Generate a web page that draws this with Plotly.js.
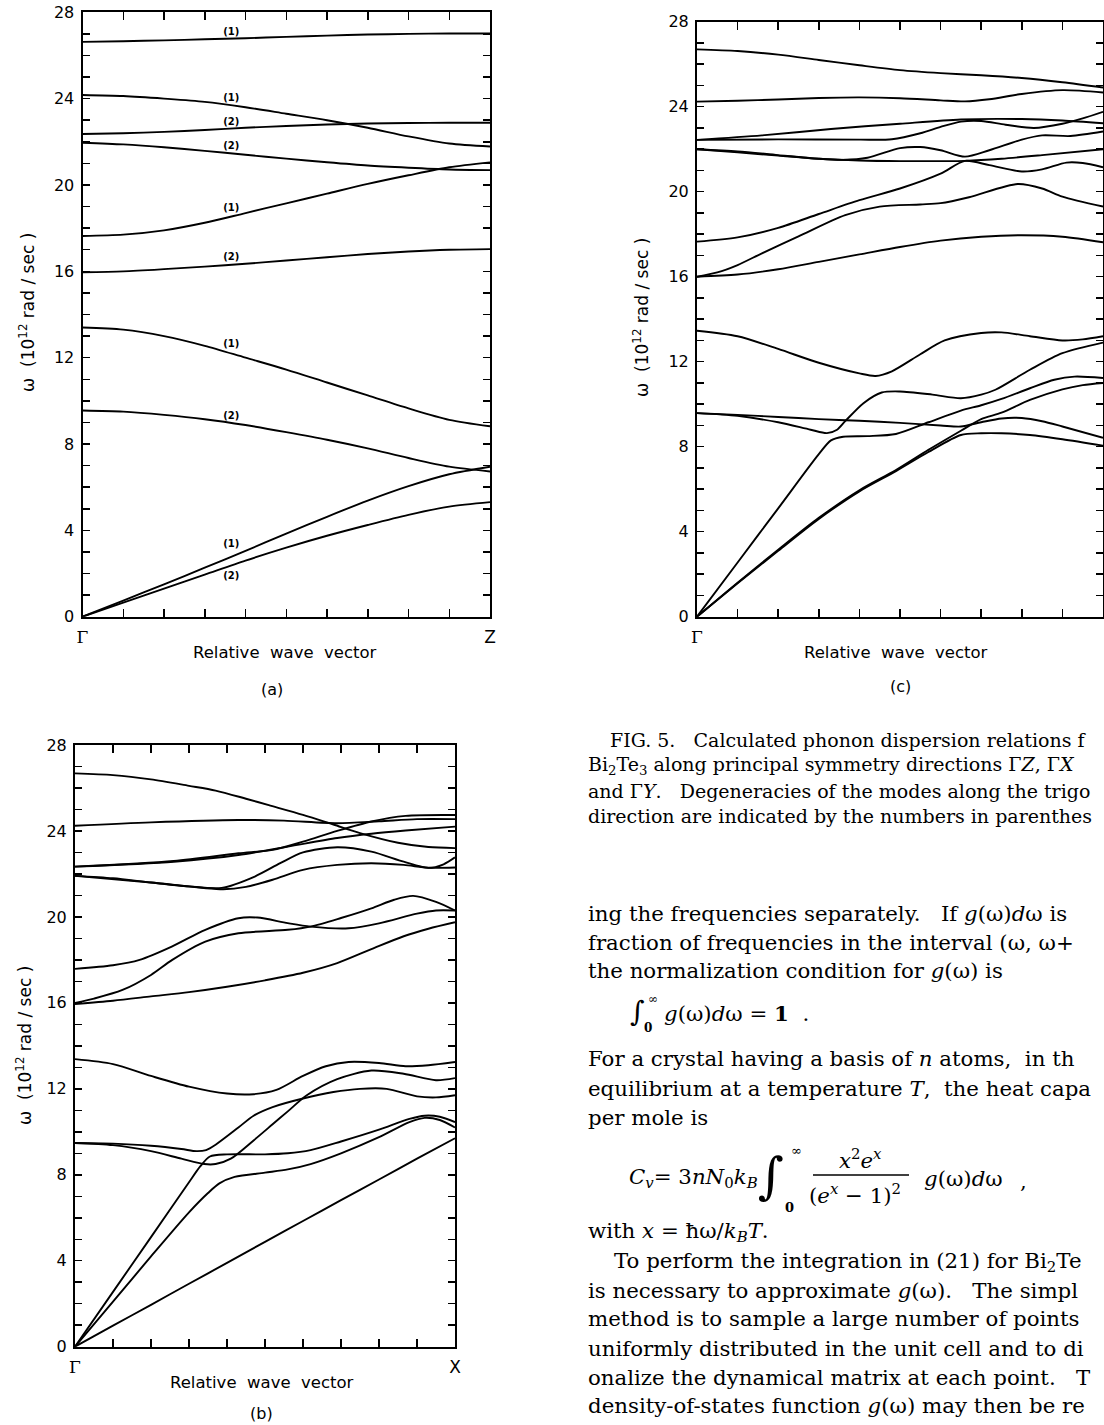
<!DOCTYPE html>
<html><head><meta charset="utf-8">
<script src="https://cdn.plot.ly/plotly-3.0.1.min.js"></script>
<style>html,body{margin:0;padding:0;background:#fff;overflow:hidden;} #chart{width:1104px;height:1425px;}</style>
</head><body><div id="chart"></div>
<script>
// ---------------- DATA ----------------
// Panel (a): Gamma -> Z, sampled every 0.1 of the relative wave vector
const qA = [0, 0.1, 0.2, 0.3, 0.4, 0.5, 0.6, 0.7, 0.8, 0.9, 1.0];
const A1 = [26.63, 26.66, 26.70, 26.75, 26.80, 26.86, 26.92, 26.97, 27.00, 27.02, 27.02];
const A2 = [24.17, 24.12, 24.00, 23.85, 23.60, 23.30, 23.00, 22.65, 22.25, 21.92, 21.78];
const A3 = [22.36, 22.40, 22.46, 22.55, 22.65, 22.73, 22.80, 22.85, 22.87, 22.88, 22.88];
const A4 = [21.96, 21.88, 21.75, 21.58, 21.40, 21.22, 21.05, 20.90, 20.80, 20.72, 20.69];
const A5 = [17.64, 17.70, 17.90, 18.25, 18.70, 19.15, 19.60, 20.05, 20.45, 20.82, 21.05];
const A6 = [15.96, 16.00, 16.10, 16.22, 16.35, 16.50, 16.65, 16.80, 16.92, 17.00, 17.03];
const A7 = [13.40, 13.30, 13.00, 12.55, 12.00, 11.45, 10.85, 10.25, 9.65, 9.12, 8.82];
const A8 = [9.55, 9.50, 9.35, 9.15, 8.88, 8.55, 8.20, 7.80, 7.35, 6.95, 6.73];
const A9 = [0, 0.75, 1.50, 2.27, 3.05, 3.85, 4.63, 5.38, 6.05, 6.60, 6.95];
const A10 = [0, 0.65, 1.30, 1.95, 2.60, 3.20, 3.75, 4.25, 4.72, 5.10, 5.31];
// degeneracy labels of panel (a)
const degLabelQ = [0.365, 0.365, 0.365, 0.365, 0.365, 0.365, 0.365, 0.365, 0.365, 0.365];
const degLabelW = [27.07, 24.01, 22.90, 21.77, 18.92, 16.65, 12.59, 9.27, 3.33, 1.84];
const degLabelText = ['(1)', '(1)', '(2)', '(2)', '(1)', '(2)', '(1)', '(2)', '(1)', '(2)'];

// Panel (b): Gamma -> X, [relative wave vector, omega] pairs
const B1 = [[0,26.68],[0.1,26.6],[0.2,26.4],[0.3,26.1],[0.37,25.88],[0.45,25.5],[0.51,25.2],[0.6,24.75],[0.68,24.3],[0.75,23.9],[0.85,23.45],[0.93,23.25],[1,23.2]];
const B2 = [[0,24.24],[0.2,24.4],[0.43,24.51],[0.55,24.48],[0.69,24.36],[0.8,24.45],[0.9,24.55],[1,24.55]];
const B3 = [[0,22.34],[0.26,22.6],[0.43,22.96],[0.52,23.12],[0.6,23.5],[0.69,24.0],[0.78,24.44],[0.87,24.7],[1,24.74]];
const B4 = [[0,22.34],[0.26,22.57],[0.43,22.88],[0.56,23.27],[0.69,23.67],[0.78,23.87],[0.87,24.02],[1,24.2]];
const B5 = [[0,21.91],[0.1,21.8],[0.2,21.6],[0.3,21.42],[0.386,21.35],[0.473,21.88],[0.54,22.5],[0.6,23.0],[0.69,23.24],[0.78,23.04],[0.865,22.57],[0.93,22.28],[0.97,22.45],[1,22.77]];
const B6 = [[0,21.91],[0.2,21.6],[0.39,21.29],[0.45,21.4],[0.52,21.73],[0.6,22.19],[0.69,22.42],[0.78,22.5],[0.865,22.42],[0.93,22.29],[1,22.3]];
const B7 = [[0,17.58],[0.1,17.75],[0.17,18.0],[0.256,18.63],[0.343,19.4],[0.43,19.94],[0.48,19.97],[0.56,19.71],[0.62,19.55],[0.72,19.47],[0.8,19.7],[0.9,20.15],[0.95,20.3],[1,20.3]];
const B8 = [[0,16.0],[0.05,16.2],[0.125,16.6],[0.2,17.3],[0.256,18.0],[0.343,18.85],[0.43,19.24],[0.56,19.4],[0.62,19.55],[0.7,19.95],[0.78,20.4],[0.84,20.8],[0.89,20.98],[0.95,20.7],[1,20.3]];
const B9 = [[0,15.95],[0.1,16.1],[0.2,16.3],[0.3,16.5],[0.4,16.75],[0.5,17.05],[0.6,17.4],[0.69,17.85],[0.78,18.5],[0.865,19.1],[0.93,19.45],[1,19.75]];
const B10 = [[0,13.38],[0.1,13.15],[0.2,12.6],[0.3,12.1],[0.4,11.78],[0.47,11.75],[0.53,11.95],[0.6,12.6],[0.66,13.05],[0.72,13.25],[0.8,13.2],[0.87,13.05],[0.93,13.1],[1,13.25]];
const B11 = [[0,9.48],[0.1,9.38],[0.2,9.1],[0.28,8.75],[0.34,8.5],[0.37,8.5],[0.41,8.75],[0.47,9.6],[0.52,10.35],[0.56,10.95],[0.61,11.7],[0.69,12.45],[0.78,12.85],[0.865,12.7],[0.95,12.4],[1,12.5]];
const B12 = [[0,9.48],[0.1,9.45],[0.2,9.35],[0.28,9.2],[0.32,9.1],[0.345,9.15],[0.37,9.4],[0.43,10.2],[0.47,10.75],[0.52,11.15],[0.6,11.55],[0.68,11.85],[0.75,12.0],[0.82,12.0],[0.9,11.65],[0.95,11.6],[1,11.7]];
const B13 = [[0,0],[0.1,2.55],[0.2,5.1],[0.3,7.65],[0.33,8.4],[0.355,8.85],[0.4,8.95],[0.5,8.95],[0.56,9.0],[0.62,9.15],[0.7,9.55],[0.8,10.1],[0.88,10.6],[0.92,10.75],[0.96,10.7],[1,10.45]];
const B14 = [[0,0],[0.1,2.1],[0.2,4.2],[0.3,6.25],[0.35,7.15],[0.38,7.6],[0.42,7.9],[0.5,8.1],[0.56,8.25],[0.62,8.5],[0.7,9.0],[0.8,9.75],[0.88,10.45],[0.92,10.65],[0.96,10.55],[1,10.2]];
const B15 = [[0,0],[0.1,0.98],[0.2,1.95],[0.3,2.93],[0.4,3.9],[0.5,4.88],[0.6,5.85],[0.7,6.82],[0.8,7.78],[0.9,8.75],[1,9.7]];

// Panel (c): Gamma -> Y, [relative wave vector, omega] pairs
const C1 = [[0,26.7],[0.1,26.62],[0.2,26.45],[0.3,26.2],[0.4,25.95],[0.5,25.72],[0.6,25.58],[0.7,25.48],[0.8,25.35],[0.9,25.15],[1,24.9]];
const C2 = [[0,24.24],[0.1,24.28],[0.2,24.34],[0.3,24.41],[0.4,24.44],[0.5,24.4],[0.6,24.3],[0.66,24.25],[0.72,24.35],[0.8,24.6],[0.9,24.78],[1,24.67]];
const C3 = [[0,22.44],[0.16,22.65],[0.33,22.95],[0.5,23.2],[0.65,23.4],[0.8,23.42],[0.9,23.35],[1,23.22]];
const C4 = [[0,22.44],[0.2,22.46],[0.4,22.45],[0.48,22.47],[0.55,22.75],[0.6,23.05],[0.65,23.3],[0.7,23.33],[0.76,23.15],[0.83,23.0],[0.9,23.2],[0.95,23.45],[1,23.76]];
const C5 = [[0,22.0],[0.1,21.9],[0.2,21.72],[0.3,21.55],[0.36,21.5],[0.42,21.6],[0.5,22.05],[0.55,22.1],[0.6,21.95],[0.66,21.65],[0.72,21.95],[0.8,22.45],[0.85,22.65],[0.92,22.62],[1,22.83]];
const C6 = [[0,22.0],[0.1,21.85],[0.2,21.7],[0.3,21.55],[0.4,21.47],[0.5,21.44],[0.6,21.44],[0.66,21.45],[0.75,21.55],[0.85,21.72],[1,22.0]];
const C7 = [[0,17.65],[0.1,17.85],[0.2,18.3],[0.3,18.95],[0.4,19.6],[0.5,20.15],[0.6,20.85],[0.66,21.45],[0.72,21.25],[0.8,20.95],[0.85,21.05],[0.91,21.37],[0.95,21.35],[1,21.15]];
const C8 = [[0,16.0],[0.05,16.2],[0.1,16.55],[0.16,17.1],[0.25,17.9],[0.365,18.9],[0.45,19.3],[0.55,19.4],[0.6,19.46],[0.67,19.74],[0.79,20.36],[0.85,20.15],[0.9,19.77],[1,19.3]];
const C9 = [[0,16.0],[0.1,16.1],[0.2,16.35],[0.3,16.7],[0.4,17.05],[0.5,17.4],[0.6,17.7],[0.7,17.88],[0.8,17.95],[0.9,17.88],[1,17.62]];
const C10 = [[0,13.46],[0.1,13.2],[0.2,12.6],[0.3,11.95],[0.4,11.45],[0.44,11.33],[0.48,11.55],[0.55,12.35],[0.61,13.0],[0.7,13.35],[0.75,13.38],[0.82,13.2],[0.9,13.0],[0.95,13.05],[1,13.2]];
const C11 = [[0,0],[0.1,2.55],[0.2,5.1],[0.3,7.65],[0.33,8.3],[0.36,8.47],[0.42,8.5],[0.49,8.6],[0.57,9.15],[0.65,9.7],[0.7,9.95],[0.75,10.25],[0.82,10.75],[0.88,11.15],[0.93,11.3],[1,11.23]];
const C12 = [[0,9.58],[0.1,9.45],[0.2,9.15],[0.28,8.8],[0.32,8.64],[0.345,8.8],[0.365,9.2],[0.41,10.05],[0.455,10.55],[0.5,10.6],[0.58,10.45],[0.65,10.28],[0.7,10.45],[0.735,10.68],[0.82,11.62],[0.9,12.4],[1,12.9]];
const C13 = [[0,9.58],[0.1,9.5],[0.2,9.4],[0.3,9.3],[0.4,9.22],[0.5,9.12],[0.6,9.0],[0.65,8.95],[0.7,9.15],[0.75,9.33],[0.8,9.35],[0.85,9.2],[0.9,8.95],[1,8.42]];
const C14 = [[0,0],[0.1,1.6],[0.2,3.15],[0.3,4.65],[0.4,5.95],[0.49,6.9],[0.57,7.85],[0.65,8.75],[0.7,9.3],[0.75,9.6],[0.82,10.2],[0.9,10.7],[0.95,10.9],[1,11.0]];
const C15 = [[0,0],[0.1,1.57],[0.2,3.1],[0.3,4.6],[0.4,5.9],[0.49,6.85],[0.57,7.75],[0.65,8.55],[0.7,8.63],[0.75,8.63],[0.82,8.55],[0.9,8.35],[1,8.05]];

// tick values / labels
const xTickVals = [0, 0.1, 0.2, 0.3, 0.4, 0.5, 0.6, 0.7, 0.8, 0.9, 1.0];
const yLabelVals = [0, 4, 8, 12, 16, 20, 24, 28];
const yMinorVals = [0,1,2,3,4,5,6,7,8,9,10,11,12,13,14,15,16,17,18,19,20,21,22,23,24,25,26,27,28];
const endPointLabels = {a:'Z', b:'X', c:'Y'};

// ---------------- BUILD ----------------
const W = 1104, H = 1425;
const lineStyle = {color:'#000', width:1.9, shape:'spline', smoothing:0.8};
const traces = [];
[A1,A2,A3,A4,A5,A6,A7,A8,A9,A10].forEach(b => traces.push({x:qA, y:b, xaxis:'x', yaxis:'y', mode:'lines', line:lineStyle, hoverinfo:'skip'}));
[C1,C2,C3,C4,C5,C6,C7,C8,C9,C10,C11,C12,C13,C14,C15].forEach(b => traces.push({x:b.map(p=>p[0]), y:b.map(p=>p[1]), xaxis:'x2', yaxis:'y2', mode:'lines', line:lineStyle, hoverinfo:'skip'}));
[B1,B2,B3,B4,B5,B6,B7,B8,B9,B10,B11,B12,B13,B14,B15].forEach(b => traces.push({x:b.map(p=>p[0]), y:b.map(p=>p[1]), xaxis:'x3', yaxis:'y3', mode:'lines', line:lineStyle, hoverinfo:'skip'}));
traces.push({x:degLabelQ, y:degLabelW, text:degLabelText.map(t=>'<b>'+t+'</b>'), mode:'text', xaxis:'x', yaxis:'y',
  textposition:'middle center', textfont:{family:'DejaVu Sans', size:10, color:'#000'}, hoverinfo:'skip'});

const dx = (a,b) => [a/W, b/W];
const dy = (top,bot) => [1 - bot/H, 1 - top/H];
function xAx(dom, end, anchor){
  return {domain:dom, anchor, range:[0,1], tickmode:'array', tickvals:[0, 1],
    ticktext:['<span style="font-family:DejaVu Serif">Γ</span>', end],
    ticks:'inside', ticklen:8, tickwidth:1.5, tickcolor:'#000',
    minor:{tickmode:'array', tickvals:xTickVals, ticks:'inside', ticklen:8, tickwidth:1.5, tickcolor:'#000', showgrid:false},
    mirror:'allticks', showline:true, linewidth:2, linecolor:'#000',
    showgrid:false, zeroline:false, tickfont:{family:'DejaVu Sans', size:17, color:'#000'}, ticklabelstandoff:4, fixedrange:true};
}
function yAx(dom, anchor){
  return {domain:dom, anchor, range:[0,28], tickmode:'array', tickvals:yLabelVals,
    ticktext: yLabelVals.map(String),
    ticks:'inside', ticklen:7, tickwidth:1.5, tickcolor:'#000',
    minor:{tickmode:'array', tickvals:yMinorVals, ticks:'inside', ticklen:7, tickwidth:1.5, tickcolor:'#000', showgrid:false},
    mirror:'allticks', showline:true, linewidth:2, linecolor:'#000',
    showgrid:false, zeroline:false, tickfont:{family:'DejaVu Sans', size:16, color:'#000'}, ticklabelstandoff:3, fixedrange:true};
}

const BODY = 21.3, CAP = 19.0;
const P = (x, y, text, o={}) => Object.assign({xref:'paper', yref:'paper', x:x/W, y:1-y/H, text, showarrow:false,
  xanchor:'left', yanchor:'middle', font:{family:'DejaVu Serif', size:BODY, color:'#000'}}, o);
const sans = s => ({family:'DejaVu Sans', size:s, color:'#000'});
const serif = s => ({family:'DejaVu Serif', size:s, color:'#000'});
const nb = '\u00a0';
const waveTitle = 'Relative'+nb+nb+'wave'+nb+nb+'vector';
const omegaTitle = 'ω'+nb+' (10<sup>12</sup>'+nb+'rad'+nb+'/'+nb+'sec'+nb+')';

const annotations = [
  // panel (a)
  P(285, 652, waveTitle, {xanchor:'center', font:sans(16.5)}),
  P(272, 690, '(a)', {xanchor:'center', font:sans(16)}),
  P(27, 313, omegaTitle, {xanchor:'center', textangle:-90, font:sans(17)}),
  // panel (c)
  P(896, 652, waveTitle, {xanchor:'center', font:sans(16.5)}),
  P(900, 686, '(c)', {xanchor:'center', font:sans(16)}),
  P(641, 318, omegaTitle, {xanchor:'center', textangle:-90, font:sans(17)}),
  // panel (b)
  P(262, 1382, waveTitle, {xanchor:'center', font:sans(16.5)}),
  P(261, 1413, '(b)', {xanchor:'center', font:sans(16)}),
  P(24, 1046, omegaTitle, {xanchor:'center', textangle:-90, font:sans(17)}),
  // caption (the reference crop cuts the lines at the right edge)
  P(608, 740, 'FIG. 5.'+nb+nb+' Calculated phonon dispersion relations f', {font:serif(CAP)}),
  P(586, 765, 'Bi<sub>2</sub>Te<sub>3</sub> along principal symmetry directions Γ<i>Z</i>, Γ<i>X</i>', {font:serif(CAP)}),
  P(586, 791, 'and Γ<i>Y</i>.'+nb+nb+' Degeneracies of the modes along the trigo', {font:serif(CAP)}),
  P(586, 816, 'direction are indicated by the numbers in parenthes', {font:serif(CAP)}),
  // body text
  P(586, 913, 'ing the frequencies separately.'+nb+nb+' If <i>g</i>(ω)<i>d</i>ω is'),
  P(586, 942, 'fraction of frequencies in the interval (ω, ω+'),
  P(586, 970, 'the normalization condition for <i>g</i>(ω) is'),
  P(628, 1011, '∫', {font:serif(28)}),
  P(646, 999, '∞', {font:serif(12)}),
  P(642, 1028, '<b>0</b>', {font:serif(12)}),
  P(662, 1013, '<i>g</i>(ω)<i>d</i>ω = <b>1</b>'+nb+' .'),
  P(586, 1058, 'For a crystal having a basis of <i>n</i> atoms,'+nb+' in th'),
  P(586, 1088, 'equilibrium at a temperature <i>T</i>,'+nb+' the heat capa'),
  P(586, 1117, 'per mole is'),
  P(627, 1178, '<i>C</i><sub><i>v</i></sub>= 3<i>nN</i><sub>0</sub><i>k</i><sub><i>B</i></sub>'),
  P(756, 1176, '∫', {font:serif(50)}),
  P(789, 1150, '∞', {font:serif(13)}),
  P(783, 1207, '<b>0</b>', {font:serif(13)}),
  P(860, 1159, '<i>x</i><sup>2</sup><i>e</i><sup><i>x</i></sup>', {xanchor:'center'}),
  P(855, 1194, '(<i>e</i><sup><i>x</i></sup> − 1)<sup>2</sup>', {xanchor:'center'}),
  P(922, 1178, '<i>g</i>(ω)<i>d</i>ω'),
  P(1018, 1180, ','),
  P(586, 1232, 'with <i>x</i> = ħω/<i>k</i><sub><i>B</i></sub><i>T</i>.'),
  P(612, 1262, 'To perform the integration in (21) for Bi<sub>2</sub>Te'),
  P(586, 1290, 'is necessary to approximate <i>g</i>(ω).'+nb+nb+' The simpl'),
  P(586, 1318, 'method is to sample a large number of points'),
  P(586, 1348, 'uniformly distributed in the unit cell and to di'),
  P(586, 1377, 'onalize the dynamical matrix at each point.'+nb+nb+' T'),
  P(586, 1405, 'density-of-states function <i>g</i>(ω) may then be re')
];

const shapes = [
  {type:'line', xref:'paper', yref:'paper', x0:813/W, x1:909/W, y0:1-1175/H, y1:1-1175/H, line:{color:'#000', width:1.3}}
];

const layout = {
  width:W, height:H, margin:{l:0, r:0, t:0, b:0}, paper_bgcolor:'#fff', plot_bgcolor:'rgba(0,0,0,0)',
  showlegend:false, hovermode:false, font:{family:'DejaVu Sans', color:'#000'},
  xaxis: xAx(dx(82.5, 490), endPointLabels.a, 'y'),
  yaxis: yAx(dy(12.3, 616.7), 'x'),
  xaxis2: xAx(dx(697, 1103), endPointLabels.c, 'y2'),
  yaxis2: yAx(dy(21.7, 616.7), 'x2'),
  xaxis3: xAx(dx(75, 455), endPointLabels.b, 'y3'),
  yaxis3: yAx(dy(745, 1346.7), 'x3'),
  annotations, shapes
};

Plotly.newPlot('chart', traces, layout, {displayModeBar:false, staticPlot:true});
</script>
</body></html>
